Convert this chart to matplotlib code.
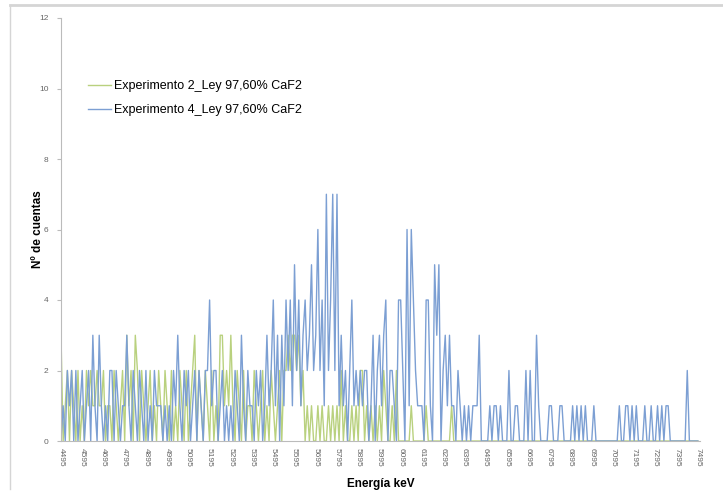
import numpy as np
import matplotlib
matplotlib.use("Agg")
import matplotlib.pyplot as plt
from matplotlib.lines import Line2D

# energia (keV), paso de 10 keV
energia = np.arange(4495, 7496, 10)

# Experimento 2_Ley 97,60% CaF2 (verde)
exp2 = [
    3, 0, 1, 2, 0, 2, 1, 0, 2, 0,
    1, 0, 2, 1, 2, 1, 1, 2, 1, 1,
    2, 0, 1, 1, 0, 2, 1, 0, 1, 2,
    0, 3, 1, 2, 0, 3, 2, 0, 2, 1,
    0, 1, 2, 0, 1, 0, 2, 1, 0, 2,
    1, 0, 2, 0, 1, 0, 2, 1, 0, 2,
    0, 1, 2, 3, 0, 2, 1, 0, 2, 1,
    0, 2, 0, 1, 0, 3, 3, 1, 2, 1,
    3, 1, 0, 2, 1, 0, 2, 0, 1, 1,
    0, 2, 1, 0, 1, 2, 0, 1, 0, 2,
    1, 0, 1, 2, 0, 2, 2, 3, 2, 3,
    3, 2, 3, 1, 2, 0, 1, 0, 1, 0,
    0, 1, 0, 1, 0, 0, 1, 0, 1, 0,
    1, 0, 2, 0, 1, 0, 0, 1, 0, 1,
    0, 2, 2, 0, 1, 0, 1, 0, 1, 0,
    1, 0, 2, 1, 0, 0, 1, 0, 2, 0,
    0, 0, 0, 0, 0, 1, 0, 0, 0, 0,
    0, 0, 1, 0, 0, 0, 0, 0, 0, 0,
    0, 0, 0, 0, 1, 0, 0, 0, 0, 0,
    0, 0, 0, 0, 0, 0, 0, 0, 0, 0,
    0, 0, 0, 0, 0, 0, 0, 0, 0, 0,
    0, 0, 0, 0, 0, 0, 0, 0, 0, 0,
    0, 0, 0, 0, 0, 0, 0, 0, 0, 0,
    0, 0, 0, 0, 0, 0, 0, 0, 0, 0,
    0, 0, 0, 0, 0, 0, 0, 0, 0, 0,
    0, 0, 0, 0, 0, 0, 0, 0, 0, 0,
    0, 0, 0, 0, 0, 0, 0, 0, 0, 0,
    0, 0, 0, 0, 0, 0, 0, 0, 0, 0,
    0, 0, 0, 0, 0, 0, 0, 0, 0, 0,
    0, 0, 0, 0, 0, 0, 0, 0, 0, 0,
    0,
]

# Experimento 4_Ley 97,60% CaF2 (azul)
exp4 = [
    0, 1, 0, 2, 1, 2, 0, 2, 0, 1,
    2, 0, 1, 2, 0, 3, 1, 0, 3, 1,
    0, 1, 0, 2, 2, 0, 2, 1, 0, 1,
    1, 3, 1, 0, 2, 1, 0, 2, 1, 0,
    2, 0, 1, 0, 2, 1, 1, 1, 0, 1,
    0, 1, 0, 2, 1, 3, 1, 0, 2, 1,
    2, 0, 1, 2, 0, 2, 1, 0, 2, 2,
    4, 1, 2, 2, 0, 1, 2, 0, 1, 0,
    1, 0, 2, 1, 0, 3, 1, 0, 2, 1,
    1, 0, 2, 1, 2, 0, 1, 3, 1, 2,
    4, 1, 3, 0, 3, 1, 4, 2, 4, 1,
    5, 2, 4, 1, 3, 4, 2, 3, 5, 2,
    3, 6, 2, 4, 1, 7, 2, 4, 7, 2,
    7, 1, 3, 1, 2, 0, 2, 4, 1, 2,
    1, 2, 1, 2, 2, 0, 1, 3, 0, 2,
    3, 1, 3, 4, 0, 2, 2, 1, 0, 4,
    4, 2, 0, 6, 1, 6, 4, 2, 1, 1,
    1, 0, 4, 4, 1, 0, 5, 3, 5, 0,
    2, 3, 1, 3, 1, 1, 0, 2, 1, 0,
    1, 0, 1, 0, 1, 1, 1, 3, 0, 0,
    0, 0, 1, 0, 1, 1, 0, 1, 0, 0,
    0, 2, 0, 0, 1, 1, 0, 0, 0, 2,
    0, 2, 0, 0, 3, 1, 0, 0, 0, 0,
    1, 1, 0, 0, 0, 1, 1, 0, 0, 0,
    0, 1, 0, 1, 0, 1, 0, 1, 0, 0,
    0, 1, 0, 0, 0, 0, 0, 0, 0, 0,
    0, 0, 0, 1, 0, 0, 1, 1, 0, 1,
    0, 1, 0, 0, 0, 1, 0, 0, 1, 0,
    0, 1, 0, 1, 0, 1, 1, 0, 0, 0,
    0, 0, 0, 0, 0, 2, 0, 0, 0, 0,
    0,
]

etiquetas = ["Experimento 2_Ley 97,60% CaF2", "Experimento 4_Ley 97,60% CaF2"]

plt.rcParams["font.family"] = ["Liberation Sans", "DejaVu Sans"]

fig = plt.figure(figsize=(7.23, 4.91), dpi=100)
ax = fig.add_axes([61 / 723, 50 / 491, 639 / 723, 423 / 491])

ax.plot(energia, exp2, color="#B9D17E", lw=1.0, label=etiquetas[0])
ax.plot(energia, exp4, color="#7C9FD3", lw=1.0, label=etiquetas[1])

ax.set_xlim(4495, 7505)
ax.set_ylim(0, 12)
ax.set_yticks(range(0, 13, 2))
ax.set_xticks(energia[::10])
ax.set_xticklabels([str(e) for e in energia[::10]], rotation=270, fontsize=6, color="#666666")
ax.tick_params(axis="y", labelsize=6, labelcolor="#666666", length=3, color="#BBBBBB", pad=6)
ax.tick_params(axis="x", length=0, pad=5)

for s in ["top", "right"]:
    ax.spines[s].set_visible(False)
ax.spines["left"].set_color("#BBBBBB")
ax.spines["bottom"].set_color("#BBBBBB")

ax.set_xlabel("Energía keV", fontsize=8.5, fontweight="bold", labelpad=8)
ax.set_ylabel("Nº de cuentas", fontsize=8.5, fontweight="bold")
ax.yaxis.set_label_coords(-0.027, 0.5)

ax.legend(loc="upper left", bbox_to_anchor=(0.025, 0.88), frameon=False,
          fontsize=9, handlelength=1.8, handletextpad=0.3, labelspacing=0.95)

# marco de la captura
fig.add_artist(Line2D([10 / 723, 1.0], [1 - 5 / 491, 1 - 5 / 491], color="#D5D5D5", lw=2))
fig.add_artist(Line2D([10 / 723, 10 / 723], [1 - 5 / 491, 2 / 491], color="#D5D5D5", lw=1))

fig.savefig("out.png", dpi=100)
